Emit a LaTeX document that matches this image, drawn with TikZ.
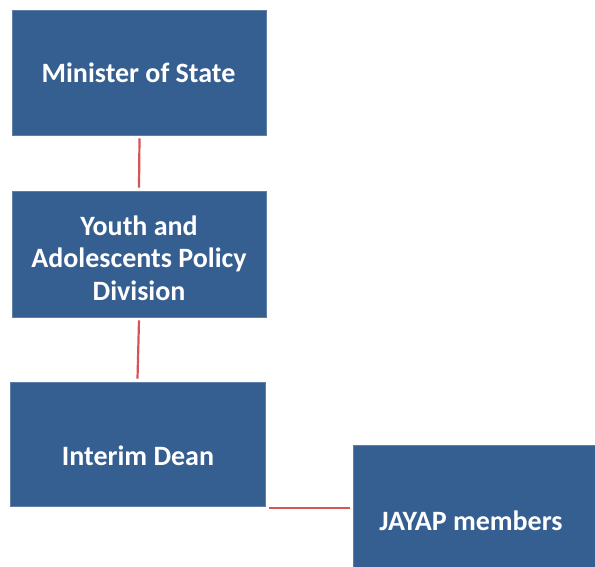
\documentclass[tikz,border=0pt]{standalone}
\usepackage{fontspec}
\setmainfont{Carlito}
\definecolor{boxblue}{RGB}{54,95,145}
\definecolor{linkred}{RGB}{214,84,84}
\begin{document}
\begin{tikzpicture}[x=1pt,y=-1pt,
  orgbox/.style={rectangle,fill=boxblue,draw=boxblue!80!white,line width=0.6pt,inner sep=0pt},
  orgtext/.style={text=white,font=\bfseries\fontsize{28}{32.5}\selectfont,align=center,inner sep=0pt},
  link/.style={draw=linkred,line width=2.2pt}]
\useasboundingbox (0,0) rectangle (595,566);
\node[orgbox,minimum width=254,minimum height=125] (b1) at (139.5,72.5) {};
\node[orgbox,minimum width=254,minimum height=126] (b2) at (139,254) {};
\node[orgbox,minimum width=255,minimum height=124] (b3) at (137.5,444) {};
\node[orgbox,minimum width=243,minimum height=124] (b4) at (474.5,507) {};
\node[orgtext] (t1) at (138.5,73) {Minister of State};
\node[orgtext] (t2) at (139,258) {Youth and\\Adolescents Policy\\Division};
\node[orgtext] (t3) at (138,456) {Interim Dean};
\node[orgtext] (t4) at (471,521) {JAYAP members};
\draw[link] ([yshift=-3]b1.south) -- ([yshift=3]b2.north);
\draw[link] ([yshift=-3]b2.south) -- ([yshift=3]b3.north);
\coordinate (h1) at ([xshift=4,yshift=-2]b3.south east);
\draw[link] (h1) -- ([xshift=-3]h1 -| b4.west);
\end{tikzpicture}
\end{document}
